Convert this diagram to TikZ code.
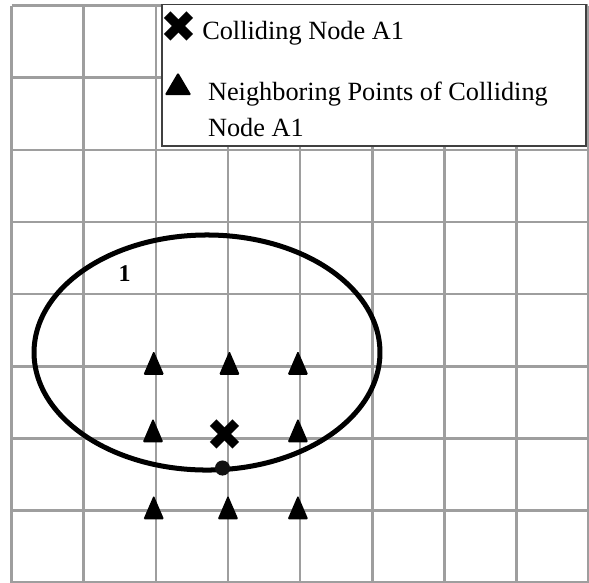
\documentclass[tikz,border=0pt]{standalone}
\usepackage{fontspec}
\setmainfont{Liberation Serif}
\newfontfamily\symfont{DejaVu Sans}
\usetikzlibrary{positioning, shapes.geometric}

\begin{document}
\begin{tikzpicture}[
    x=54pt, y=54pt,
    gridline/.style={draw=black!38, line width=2pt, step=54pt},
    legendbox/.style={draw=black!75, fill=white, line width=0.8pt},
    lbl/.style={font=\fontsize{19.7}{27.7}\selectfont, inner sep=0pt, anchor=base west, align=left},
    nbr/.style={
        isosceles triangle, isosceles triangle apex angle=48,
        isosceles triangle stretches, shape border rotate=90,
        fill=black, inner sep=0pt, rounded corners=1pt,
        minimum width=15.5pt, minimum height=18pt
    },
    legtri/.style={nbr, isosceles triangle apex angle=62,
        minimum width=20pt, minimum height=17pt},
    hit/.style={font=\symfont\fontsize{33}{33}\selectfont, inner sep=0pt},
    dot/.style={circle, fill=black!93, inner sep=0pt, minimum size=11.3pt},
    zone/.style={line width=3.75pt},
    num/.style={font=\fontsize{18}{18}\selectfont\bfseries, inner sep=0pt},
]

\useasboundingbox (-0.162,0.079) rectangle (8.007,-7.993);

% Background grid
\draw[gridline] (0,0) grid (8,-8);

% Legend (top right)
\draw[legendbox] (2.085,0.014) rectangle (7.965,-1.946);
\node[hit] (keyhit) at (2.314,-0.302) {✖};
\node[lbl] (keyhittxt) at (2.64,-0.462) {Colliding Node A1};
\node[legtri] (keytri) at (2.307,-1.134) {};
\node[lbl] (keytritxt) at (2.72,-1.821) {Neighboring Points of Colliding\\Node A1};

% Collision zone 1
\draw[zone] (2.709,-4.81) ellipse [x radius=2.399, y radius=1.630];
\node[num] (zoneid) at (1.565,-3.717) {1};

% Neighboring points round the colliding node
\node[nbr] (nb1) at (1.97,-5.025) {};
\node[nbr] (nb2) at (3.02,-5.025) {};
\node[nbr] (nb3) at (3.97,-5.025) {};
\node[nbr] (nb4) at (1.96,-5.961) {};
\node[nbr] (nb5) at (3.97,-5.961) {};
\node[nbr] (nb6) at (1.97,-7.03) {};
\node[nbr] (nb7) at (3.0,-7.03) {};
\node[nbr] (nb8) at (3.97,-7.03) {};

% Colliding node and point on the zone border
\node[hit] (a1) at (2.96,-5.954) {✖};
\node[dot] (edge) at (2.924,-6.412) {};

\end{tikzpicture}
\end{document}
